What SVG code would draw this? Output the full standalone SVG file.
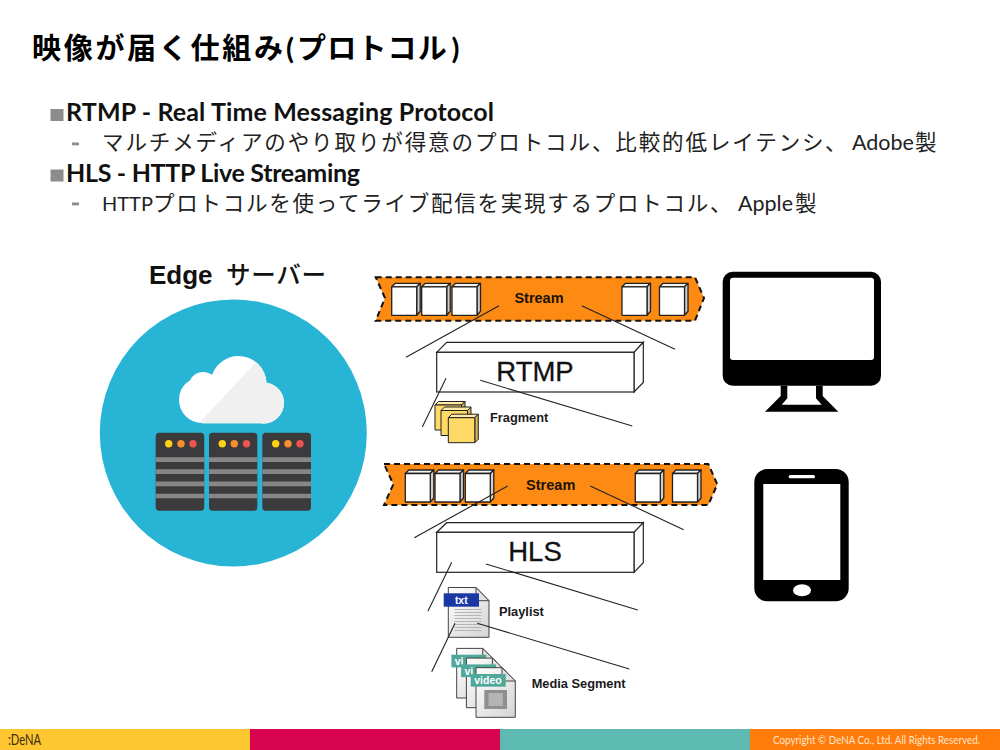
<svg xmlns="http://www.w3.org/2000/svg" width="1000" height="750" viewBox="0 0 1000 750">
<style>
text{font-family:"Liberation Sans","Noto Sans CJK JP",sans-serif;fill:#111}
.title{font-family:"Noto Sans CJK JP",sans-serif;font-weight:700;font-size:29px;fill:#000;letter-spacing:2.7px}
.p{font-family:"Lato",sans-serif;letter-spacing:0}
.h{font-family:"Lato","Noto Sans CJK JP",sans-serif;font-weight:700;font-size:25px;fill:#111}
.b{font-family:"Noto Sans CJK JP",sans-serif;font-size:21.5px;fill:#222;letter-spacing:1.9px}
.l{font-family:"Lato",sans-serif;font-size:21.5px;letter-spacing:0}
.sq{fill:#8c8c8c}
.dash{fill:#8c8c8c}
.band{fill:#fd8a12;stroke:#111;stroke-width:2;stroke-dasharray:6 4}
.lbl{font-weight:700;font-size:12.8px;fill:#1a1a1a}
.st{font-weight:700;font-size:14.5px;fill:#1c1208;text-anchor:middle}
.big{font-size:27.5px;fill:#111;text-anchor:middle;stroke:#111;stroke-width:.3}
.box{fill:#fff;stroke:#222;stroke-width:1.2}
.cn line{stroke:#222;stroke-width:1.1}
.rack{fill:#3b3b3d}
.bar{fill:#868686}
.y{fill:#fcd116}.o{fill:#f78f2e}.r{fill:#ee5353}
.doc{fill:url(#docg);stroke:#444;stroke-width:1}
.fold{fill:#e2e2e2;stroke:#444;stroke-width:1}
.tabt{font-weight:700;font-size:10.5px;fill:#fff;text-anchor:middle}
.tabs{font-weight:700;font-size:10.5px;fill:#fff}
.ln{stroke:#b5b5b5;stroke-width:1}
</style>
<defs>
<linearGradient id="docg" x1="0" y1="0" x2="1" y2="1"><stop offset="0" stop-color="#fff"/><stop offset="1" stop-color="#d4d4d4"/></linearGradient>
<g id="cube" stroke="#222" stroke-width="1.3" stroke-linejoin="round">
<path d="M0 3.5L3.5 0H28.5L25 3.5Z" fill="#f4f4f4"/>
<path d="M25 3.5L28.5 0V28L25 32Z" fill="#cfcfcf"/>
<rect x="0" y="3.5" width="25" height="28.5" fill="#fff"/>
</g>
<g id="ycube" stroke="#222" stroke-width="1" stroke-linejoin="round">
<path d="M0 3.5L3.5 0H30L26.5 3.5Z" fill="#ffe9a8"/>
<path d="M26.5 3.5L30 0V25L26.5 28.5Z" fill="#d9b555"/>
<rect x="0" y="3.5" width="26.5" height="25" fill="#ffd966"/>
</g>
<path id="vdoc" class="doc" d="M0 0H26L39.3 13.3V49.6H0Z"/>
<clipPath id="cloudClip">
<circle cx="202" cy="400" r="23"/><circle cx="203.5" cy="387" r="15"/><circle cx="238.5" cy="384" r="28"/><circle cx="263.5" cy="403" r="20.5"/><rect x="202" y="390" width="62" height="33.3"/>
</clipPath>
</defs>
<rect width="1000" height="750" fill="#fff"/>

<g id="heading">
<text class="title" x="32" y="59">映像が届く仕組み<tspan class="p" x="286">(</tspan><tspan x="297" style="letter-spacing:1.2px">プロトコル</tspan><tspan class="p" x="451.5">)</tspan></text>
<rect class="sq" x="50.5" y="109" width="13" height="12"/>
<text class="h" x="66" y="121" textLength="428">RTMP - Real Time Messaging Protocol</text>
<rect class="dash" x="72" y="142.5" width="7" height="2.8"/>
<text class="b" x="102" y="150">マルチメディアのやり取りが得意のプロトコル、比較的低レイテンシ、<tspan class="l" x="852">Adobe</tspan><tspan x="915">製</tspan></text>
<rect class="sq" x="50.5" y="169.5" width="13" height="12"/>
<text class="h" x="66" y="182" textLength="294">HLS - HTTP Live Streaming</text>
<rect class="dash" x="72" y="202.5" width="7" height="2.8"/>
<text class="b" x="102" y="211"><tspan class="l" style="font-size:20px">HTTP</tspan><tspan x="153" style="letter-spacing:1.75px">プロトコルを使ってライブ配信を実現するプロトコル、</tspan><tspan class="l" x="738">Apple</tspan><tspan x="795">製</tspan></text>
</g>

<g id="edge-server">
<text x="149" y="283.5" font-size="26" font-weight="700" fill="#111">Edge</text>
<text x="226" y="283.5" font-size="24.5" font-weight="500" textLength="100" style="font-family:'Noto Sans CJK JP',sans-serif">サーバー</text>
<circle cx="233.3" cy="433" r="133.5" fill="#27b4d5"/>
<g clip-path="url(#cloudClip)"><rect x="175" y="350" width="115" height="75" fill="#fff"/><polygon points="199,423.3 257,361 295,361 295,425 199,425" fill="#f0f0f0"/></g>
<g id="racks">
<rect class="rack" x="155.7" y="432.7" width="48.5" height="78" rx="3.5"/>
<rect class="rack" x="209" y="432.7" width="48.3" height="78" rx="3.5"/>
<rect class="rack" x="262.3" y="432.7" width="48.7" height="78" rx="3.5"/>
<path class="bar" d="M155.7 457.3h48.5v4.6h-48.5zM155.7 469.3h48.5v4.6h-48.5zM155.7 481.6h48.5v4.6h-48.5zM155.7 493.7h48.5v4.6h-48.5zM209 457.3h48.3v4.6h-48.3zM209 469.3h48.3v4.6h-48.3zM209 481.6h48.3v4.6h-48.3zM209 493.7h48.3v4.6h-48.3zM262.3 457.3h48.7v4.6h-48.7zM262.3 469.3h48.7v4.6h-48.7zM262.3 481.6h48.7v4.6h-48.7zM262.3 493.7h48.7v4.6h-48.7z"/>
<circle class="y" cx="168.7" cy="443.8" r="3.7"/><circle class="o" cx="181" cy="443.8" r="3.7"/><circle class="r" cx="193" cy="443.8" r="3.7"/>
<circle class="y" cx="222.3" cy="443.8" r="3.7"/><circle class="o" cx="234.3" cy="443.8" r="3.7"/><circle class="r" cx="246.5" cy="443.8" r="3.7"/>
<circle class="y" cx="275.7" cy="443.8" r="3.7"/><circle class="o" cx="288" cy="443.8" r="3.7"/><circle class="r" cx="300" cy="443.8" r="3.7"/>
</g>
</g>

<g id="stream-rtmp">
<polygon class="band" points="375.7,277.3 695,277.3 704,298 695,320.7 375.7,320.7 385,298"/>
<use href="#cube" x="391.7" y="283.3"/><use href="#cube" x="421.7" y="283.3"/><use href="#cube" x="452" y="283.3"/><use href="#cube" x="622" y="283.3"/><use href="#cube" x="659.5" y="283.3"/>
<text class="st" x="539" y="303.3">Stream</text>
</g>
<g id="rtmp">
<polygon class="box" points="436.7,352.3 446.7,342.3 643.3,342.3 634,352.3"/>
<polygon class="box" points="634,352.3 643.3,342.3 643.3,382.5 634,392"/>
<rect class="box" x="436.7" y="352.3" width="197.3" height="39.7"/>
<text class="big" x="535" y="381">RTMP</text>
</g>
<g id="fragment">
<use href="#ycube" x="435" y="401.5"/><use href="#ycube" x="441" y="407"/><use href="#ycube" x="448.3" y="414.2"/>
<text class="lbl" x="490" y="422">Fragment</text>
</g>

<g id="stream-hls">
<polygon class="band" points="384,464 708.3,464 717.3,484.3 708.3,505 384,505 393.3,484.3"/>
<use href="#cube" x="405.3" y="470"/><use href="#cube" x="435" y="470"/><use href="#cube" x="465.3" y="470"/><use href="#cube" x="635.3" y="470"/><use href="#cube" x="672.5" y="470"/>
<text class="st" x="550.7" y="489.5">Stream</text>
</g>
<g id="hls">
<polygon class="box" points="436.7,532.3 446.7,522.7 643.3,522.7 634,532.3"/>
<polygon class="box" points="634,532.3 643.3,522.7 643.3,562.7 634,572.3"/>
<rect class="box" x="436.7" y="532.3" width="197.3" height="40"/>
<text class="big" x="535" y="560.5">HLS</text>
</g>

<g id="playlist">
<path class="doc" d="M448.3 587.5H476L489 600.7V637.3H448.3Z"/>
<path class="fold" d="M476 587.5L489 600.7H476Z"/>
<rect x="443.7" y="593.3" width="35.3" height="13.4" fill="#1a37a6"/>
<text class="tabt" x="461.3" y="603.8">txt</text>
<path class="ln" d="M454.5 609.5h27M454.5 612.5h27M454.5 615.5h27M454.5 618.5h27M454.5 621.5h27M454.5 624.5h27M454.5 627.5h27M454.5 630.5h27"/>
<text class="lbl" x="499" y="616">Playlist</text>
</g>

<g id="media-segment">
<g transform="translate(-19.3 -19.3)">
<use href="#vdoc" x="476" y="667.7"/><path class="fold" d="M502 667.7L515.3 681H502Z"/>
<rect x="470.7" y="674" width="35" height="12.7" fill="#4fa89a"/><text class="tabs" x="474" y="684.3">vi</text>
</g>
<g transform="translate(-9.6 -9.6)">
<use href="#vdoc" x="476" y="667.7"/><path class="fold" d="M502 667.7L515.3 681H502Z"/>
<rect x="470.7" y="674" width="35" height="12.7" fill="#4fa89a"/><text class="tabs" x="474" y="684.3">vi</text>
</g>
<use href="#vdoc" x="476" y="667.7"/><path class="fold" d="M502 667.7L515.3 681H502Z"/>
<rect x="470.7" y="674" width="35" height="12.7" fill="#4fa89a"/><text class="tabt" x="488" y="684.3">video</text>
<rect x="484.3" y="690" width="22.7" height="19" fill="#8f8f8f"/><rect x="488.5" y="693" width="14.3" height="13" fill="#b4b4b4"/>
<text class="lbl" x="531.7" y="688">Media Segment</text>
</g>

<g id="monitor">
<rect x="722.7" y="271.7" width="158.3" height="114" rx="10" fill="#000"/>
<rect x="730" y="277.7" width="144" height="82.3" rx="3" fill="#fff"/>
<path fill-rule="evenodd" fill="#000" d="M780.7 385.7V396L765 411.7H838.3L822.7 396V385.7ZM787.3 385.7H816V398.3L821.7 404.7H781.7L787.3 398.3Z"/>
</g>
<g id="phone">
<rect x="754.3" y="469" width="94.4" height="132.3" rx="13" fill="#000"/>
<rect x="763.3" y="484" width="77" height="96" fill="#fff"/>
<rect x="788.7" y="475" width="26.3" height="3.3" rx="1.6" fill="#fff"/>
<ellipse cx="802" cy="590.3" rx="9" ry="6" fill="#fff"/>
</g>

<g id="connectors" class="cn">
<line x1="499" y1="305.7" x2="406" y2="357.3"/>
<line x1="581.7" y1="305.7" x2="675" y2="349.3"/>
<line x1="446" y1="378.3" x2="422.3" y2="427"/>
<line x1="480.3" y1="380.3" x2="632.3" y2="426"/>
<line x1="507.7" y1="486" x2="414.3" y2="537.7"/>
<line x1="590.3" y1="486" x2="683.7" y2="529.7"/>
<line x1="451.7" y1="562.3" x2="428" y2="611"/>
<line x1="486" y1="564" x2="637.7" y2="610"/>
<line x1="455" y1="623.3" x2="431.7" y2="671.7"/>
<line x1="477.3" y1="623.3" x2="629.3" y2="669"/>
</g>

<g id="footer">
<rect x="0" y="729" width="250" height="21" fill="#ffc72f"/>
<rect x="250" y="729" width="250" height="21" fill="#d9044f"/>
<rect x="500" y="729" width="250" height="21" fill="#5cbab3"/>
<rect x="750" y="729" width="250" height="21" fill="#ff7c0a"/>
<text x="8" y="745" font-size="15" textLength="33" lengthAdjust="spacingAndGlyphs" style="font-family:'Lato',sans-serif;fill:#3a2a10">:DeNA</text>
<text x="773" y="744" font-size="10.5" textLength="207" lengthAdjust="spacingAndGlyphs" style="font-family:'Lato',sans-serif;fill:#ffe6cc">Copyright © DeNA Co., Ltd. All Rights Reserved.</text>
</g>
</svg>
